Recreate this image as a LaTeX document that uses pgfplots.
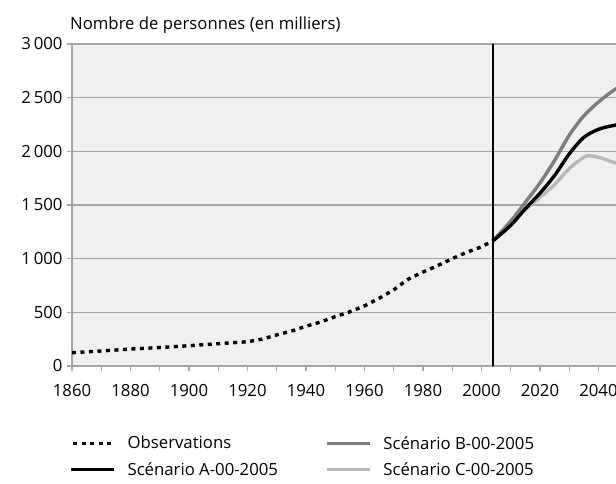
\documentclass[border=0pt]{standalone}
\usepackage{fontspec}
\setmainfont{Open Sans}
\usepackage{pgfplots}
\pgfplotsset{compat=1.18}

\definecolor{bgcol}{RGB}{239,240,239}
\definecolor{gridcol}{RGB}{165,165,165}
\definecolor{scenB}{RGB}{125,125,125}
\definecolor{scenC}{RGB}{185,185,185}

\newcommand{\chartfont}{\fontsize{16.8}{19}\selectfont}

\begin{document}
\begin{tikzpicture}
  \begin{axis}[
      name=ax,
      scale only axis,
      width=544bp, height=322bp,
      xmin=1860, xmax=2046,
      ymin=0, ymax=3000,
      axis x line*=bottom,
      axis y line*=left,
      axis line style={gridcol, line width=1.6bp},
      axis background/.style={fill=bgcol},
      xtick={1860,1880,...,2040},
      minor xtick={1870,1890,...,2030},
      ytick={0,500,...,3000},
      ymajorgrids,
      grid style={gridcol, line width=1.6bp},
      tick style={gridcol, line width=1.2bp},
      major tick length=5bp, minor tick length=5bp,
      tick align=outside,
      /pgf/number format/assume math mode=true,
      yticklabel style={/pgf/number format/1000 sep={\,}, font=\chartfont, xshift=-1bp},
      xticklabel style={/pgf/number format/1000 sep={}, font=\chartfont, yshift=-10bp},
      clip=true,
      legend columns=2,
      legend cell align=left,
      legend style={at={(0,0)}, anchor=north west, xshift=-6bp, yshift=-66bp,
        draw=none, fill=none, font=\chartfont,
        row sep=8bp,
        /tikz/every even column/.append style={column sep=45bp}},
      legend image code/.code={\draw[#1] (0bp,0bp) -- (43bp,0bp); \path (53bp,0bp);},
    ]
    % observations
    \addplot[black, line width=3.4bp, dash pattern=on 4bp off 4.5bp, forget plot] coordinates {
      (1860,124) (1870,140) (1880,158) (1890,172) (1900,189) (1910,208)
      (1920,226) (1925,250) (1930,290) (1935,325) (1940,370) (1945,410)
      (1950,460) (1955,505) (1960,560) (1965,630) (1970,710) (1975,810)
      (1980,875) (1985,935) (1990,1000) (1995,1060) (2000,1110) (2004,1168)
    };
    % scenario C
    \addplot[scenC, line width=3.4bp, smooth, forget plot] coordinates {
      (2004,1168) (2010,1325) (2015,1455) (2020,1570) (2025,1690) (2030,1840)
      (2035,1945) (2037,1958) (2040,1945) (2045,1900) (2050,1860)
    };
    % scenario B
    \addplot[scenB, line width=3.4bp, smooth, forget plot] coordinates {
      (2004,1168) (2010,1350) (2015,1525) (2020,1705) (2025,1915) (2030,2150)
      (2035,2330) (2040,2460) (2045,2565) (2050,2650)
    };
    % scenario A
    \addplot[black, line width=3.4bp, smooth, forget plot] coordinates {
      (2004,1168) (2010,1310) (2015,1465) (2020,1610) (2025,1775) (2030,1975)
      (2035,2130) (2040,2205) (2045,2240) (2050,2260)
    };
    \addplot[black, line width=2.2bp, forget plot] coordinates {(2004,0) (2004,3000)};
    % legend, row by row
    \addlegendimage{black, line width=3.4bp, dash pattern=on 4bp off 4.5bp, dash phase=6bp}
    \addlegendentry{Observations}
    \addlegendimage{scenB, line width=3.4bp}
    \addlegendentry{Scénario B-00-2005}
    \addlegendimage{black, line width=3.4bp}
    \addlegendentry{Scénario A-00-2005}
    \addlegendimage{scenC, line width=3.4bp}
    \addlegendentry{Scénario C-00-2005}
  \end{axis}
  \node[anchor=base west, font=\chartfont, inner sep=0pt]
    at ([xshift=-2bp, yshift=14bp]ax.north west) {Nombre de personnes (en milliers)};
  \pgfresetboundingbox
  \path[use as bounding box] ([xshift=-72bp, yshift=-118bp]ax.south west)
    rectangle ([yshift=44bp]ax.north east);
\end{tikzpicture}
\end{document}
